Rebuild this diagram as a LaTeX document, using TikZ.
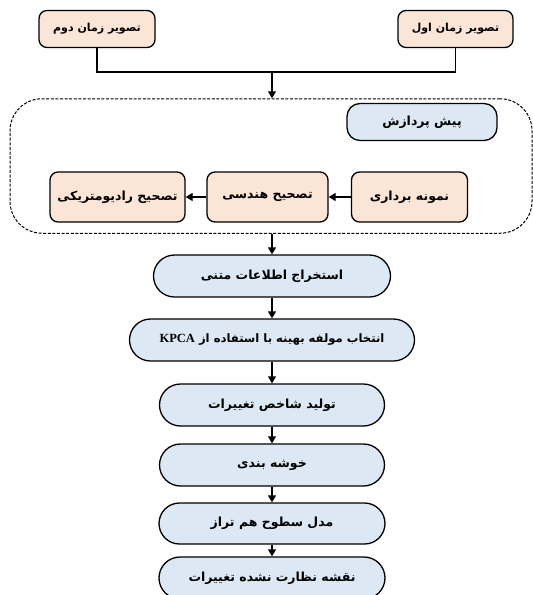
\documentclass[tikz,border=0pt]{standalone}
\usepackage{fontspec}
\TeXXeTstate=1
\newfontfamily\arfont[Script=Arabic]{DejaVu Sans}
\newfontfamily\kpfont{Liberation Serif}
\usetikzlibrary{arrows.meta,shapes.misc}
\definecolor{peach}{HTML}{FBE5D6}
\definecolor{lblue}{HTML}{DDE8F5}
\begin{document}
\begin{tikzpicture}[x=1pt,y=-1pt,
  box/.style={draw=black,line width=1.3pt,align=center,inner sep=0pt,
    font=\arfont\bfseries\fontsize{12.5}{14}\selectfont},
  pbox/.style={box,fill=peach,rounded corners=8pt},
  bbox/.style={box,fill=lblue,rounded rectangle,minimum height=42pt},
  arr/.style={line width=1.3pt,-{Triangle[length=7pt,width=8pt]}},
  ln/.style={line width=1.3pt}]
\useasboundingbox (0,0) rectangle (533,595);

\node[pbox,minimum width=116pt,minimum height=37pt,font=\arfont\bfseries\fontsize{11}{13}\selectfont] (tl) at (97,29) {\beginR تصویر زمان دوم\endR};
\node[pbox,minimum width=115pt,minimum height=37pt,font=\arfont\bfseries\fontsize{11}{13}\selectfont] (tr) at (455.5,29) {\beginR تصویر زمان اول\endR};

\node[draw=black,line width=1pt,dash pattern=on 3pt off 1.6pt,rounded corners=32pt,
  minimum width=522pt,minimum height=134.5pt,inner sep=0pt] (pre) at (271,166) {};

\node[box,fill=lblue,rounded corners=13pt,minimum width=150pt,minimum height=37pt] (pp) at (422,122) {\beginR پیش پردازش\endR};

\node[pbox,minimum width=116pt,minimum height=50pt] (nb) at (409.5,197) {\beginR نمونه برداری\endR};
\node[pbox,minimum width=121pt,minimum height=50pt] (hs) at (267.5,197) {\beginR تصحیح هندسی\endR};
\node[pbox,minimum width=135pt,minimum height=50pt] (rd) at (117.5,197) {\beginR تصحیح رادیومتریکی\endR};

\node[bbox,minimum width=237pt] (b1) at (272,276) {\beginR استخراج اطلاعات متنی\endR};
\node[bbox,minimum width=285pt,font=\arfont\bfseries\fontsize{11.6}{14}\selectfont] (b2) at (272,340) {\beginR انتخاب مولفه بهینه با استفاده از \beginL{\kpfont\bfseries\fontsize{12.5}{14}\selectfont KPCA}\endL\endR};
\node[bbox,minimum width=225pt] (b3) at (272,405) {\beginR تولید شاخص تغییرات\endR};
\node[bbox,minimum width=225pt] (b4) at (272,465) {\beginR خوشه بندی\endR};
\node[bbox,minimum width=226pt,minimum height=41pt] (b5) at (272,523.5) {\beginR مدل سطوح هم تراز\endR};
\node[bbox,minimum width=226pt] (b6) at (272,578) {\beginR نقشه نظارت نشده تغییرات\endR};

\coordinate (jn) at (272,72);
\draw[ln] (tl.south) |- (jn) -| (tr.south);
\draw[arr] (jn) -- (jn |- pre.north);
\draw[arr] (b1.north |- pre.south) -- (b1.north);
\draw[arr] (nb.west) -- (hs.east);
\draw[arr] (hs.west) -- (rd.east);
\draw[arr] (b1.south) -- (b1.south |- b2.north);
\draw[arr] (b2.south -| b3.north) -- (b3.north);
\draw[arr] (b3.south) -- (b4.north);
\draw[arr] (b4.south) -- (b5.north);
\draw[arr] (b5.south) -- (b6.north);
\end{tikzpicture}
\end{document}
